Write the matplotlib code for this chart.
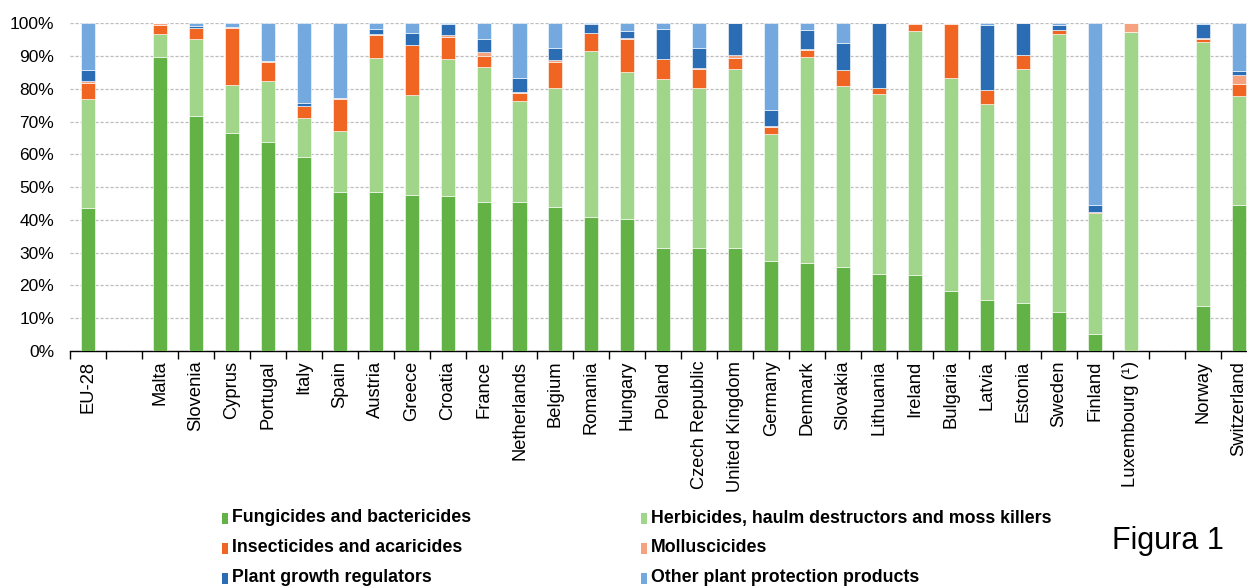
import matplotlib
matplotlib.use("Agg")
import matplotlib.pyplot as plt
from matplotlib.patches import Rectangle
from matplotlib.ticker import FixedLocator, PercentFormatter
import numpy as np

plt.rcParams['font.family'] = ['Liberation Sans', 'DejaVu Sans']

# Countries (empty strings are spacer slots between groups)
countries = ["EU-28", "", "Malta", "Slovenia", "Cyprus", "Portugal", "Italy", "Spain",
             "Austria", "Greece", "Croatia", "France", "Netherlands", "Belgium",
             "Romania", "Hungary", "Poland", "Czech Republic", "United Kingdom",
             "Germany", "Denmark", "Slovakia", "Lithuania", "Ireland", "Bulgaria",
             "Latvia", "Estonia", "Sweden", "Finland", "Luxembourg (¹)", "",
             "Norway", "Switzerland"]

# Shares of sales by product group (%)
fungicides = [43.7, 0, 89.8, 71.6, 66.6, 63.7, 59.1, 48.5, 48.5, 47.5, 47.2, 45.6, 45.6,
              43.9, 40.9, 40.3, 31.3, 31.3, 31.3, 27.4, 26.8, 25.7, 23.4, 23.1, 18.4,
              15.6, 14.6, 11.9, 5.3, 0, 0, 13.8, 44.6]
herbicides = [33.1, 0, 6.9, 23.7, 14.6, 18.8, 12.1, 18.7, 40.9, 30.6, 41.9, 41.2, 30.7,
              36.3, 50.6, 44.9, 51.6, 48.9, 54.8, 38.8, 62.9, 55.2, 55.1, 74.5, 65.0,
              59.9, 71.5, 84.8, 36.7, 97.3, 0, 80.6, 33.2]
insecticides = [5.1, 0, 2.8, 3.4, 17.3, 5.7, 3.7, 9.8, 7.0, 15.3, 6.8, 3.3, 2.3, 7.9,
                5.5, 10.1, 6.2, 6.0, 3.4, 2.2, 2.1, 4.8, 1.7, 2.1, 16.4, 4.2, 4.2, 1.3,
                0.3, 0, 0, 0.7, 3.7]
molluscicides = [0.5, 0, 0.5, 0, 0.3, 0.2, 0, 0.3, 0.4, 0, 0.4, 1.2, 0.3, 0.7, 0, 0.2,
                 0, 0.3, 0.8, 0.4, 0.4, 0, 0, 0.3, 0.2, 0, 0, 0, 0, 2.7, 0, 0.3, 2.6]
growth_regulators = [3.3, 0, 0, 0.4, 0, 0, 0.7, 0, 1.6, 3.5, 3.4, 3.8, 4.3, 3.7, 2.8,
                     2.2, 9.3, 6.0, 9.7, 4.7, 5.8, 8.4, 19.8, 0, 0, 19.7, 9.7, 1.4, 2.3,
                     0, 0, 4.3, 1.4]
other_products = [14.3, 0, 0, 0.9, 1.2, 11.6, 24.4, 22.7, 1.6, 3.1, 0.3, 4.9, 16.8, 7.5,
                  0.2, 2.3, 1.6, 7.5, 0, 26.5, 2.0, 5.9, 0, 0, 0, 0.6, 0, 0.6, 55.4, 0,
                  0, 0.3, 14.5]

series_labels = ["Fungicides and bactericides",
                 "Herbicides, haulm destructors and moss killers",
                 "Insecticides and acaricides", "Molluscicides",
                 "Plant growth regulators", "Other plant protection products"]
series_colors = ["#62B245", "#A0D58A", "#F06522", "#F7A27E", "#2A6DB4", "#74A9E0"]
series_values = [fungicides, herbicides, insecticides, molluscicides,
                 growth_regulators, other_products]

W, H = 1247, 588
fig = plt.figure(figsize=(W / 100, H / 100), dpi=100)
ax = fig.add_axes([70 / W, 1 - 351 / H, 1186.7 / W, (351 - 23.3) / H])

x = np.arange(len(countries))
bars_idx = np.array([i for i, c in enumerate(countries) if c])
bottom = np.zeros(len(bars_idx))
for vals, col in zip(series_values, series_colors):
    v = np.array(vals, dtype=float)[bars_idx]
    ax.bar(x[bars_idx], v, width=0.39, bottom=bottom, color=col,
           edgecolor="#ffffff", linewidth=0.4, zorder=3)
    bottom += v

ax.set_xlim(-0.5, len(countries) - 0.5)
ax.set_ylim(0, 100)
ax.yaxis.set_major_locator(FixedLocator(np.arange(0, 101, 10)))
ax.yaxis.set_major_formatter(PercentFormatter(decimals=0))
ax.tick_params(axis="y", length=0, pad=11.5, labelsize=12.5)
ax.grid(axis="y", color="#BDBDBD", linestyle=(0, (2.5, 1.5)), linewidth=0.9, zorder=0)

ax.set_xticks(x)
ax.set_xticklabels(countries, rotation=90, va="top", ha="center", fontsize=13.2)
ax.tick_params(axis="x", which="major", length=0, pad=7)
ax.set_xticks(np.arange(-0.5, len(countries)), minor=True)
ax.tick_params(axis="x", which="minor", length=6, width=1, color="black", direction="out")

for s in ("top", "right", "left"):
    ax.spines[s].set_visible(False)
ax.spines["bottom"].set_color("black")
ax.spines["bottom"].set_linewidth(1)

# Legend laid out in two columns below the axis
col_x = [222, 641]
row_y = [518, 548, 578]
for k, (lab, col) in enumerate(zip(series_labels, series_colors)):
    r, c = k // 2, k % 2
    fig.add_artist(Rectangle((col_x[c] / W, 1 - (row_y[r] + 5.5) / H), 6 / W, 11 / H,
                             transform=fig.transFigure, facecolor=col, edgecolor="none"))
    fig.text((col_x[c] + 10) / W, 1 - row_y[r] / H, lab, fontsize=12.8,
             fontweight="bold", va="center", ha="left")

fig.text(1168 / W, 1 - 541 / H, "Figura 1", fontsize=22, ha="center", va="center")

fig.savefig("out.png", dpi=100)
